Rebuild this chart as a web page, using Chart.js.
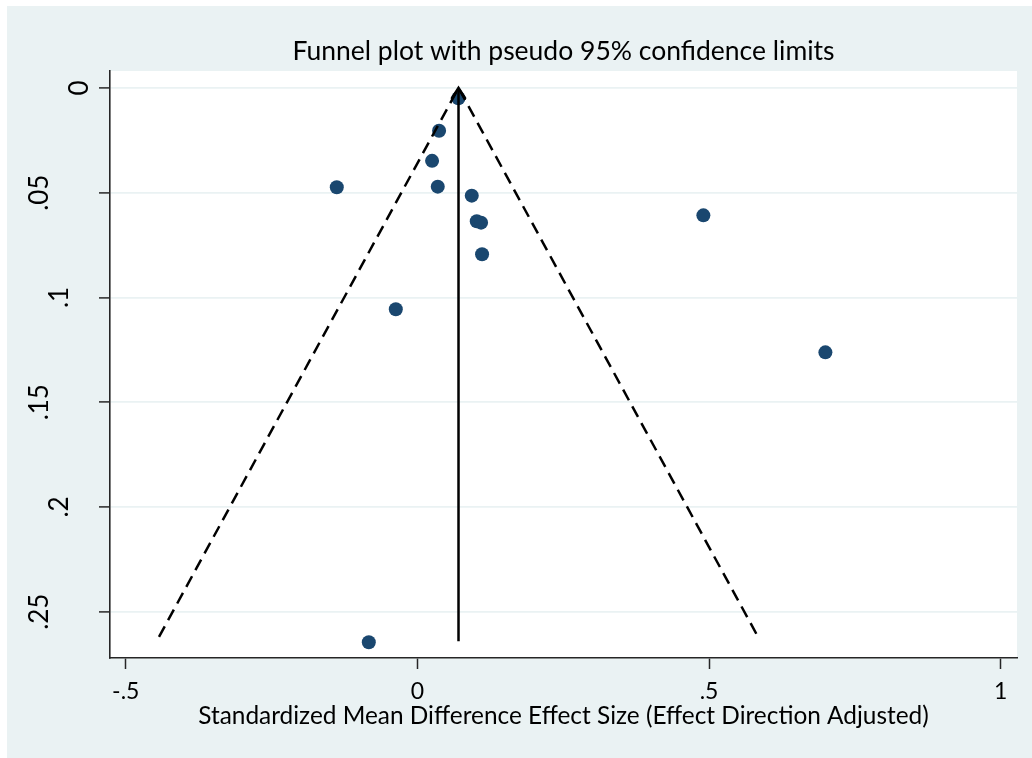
<!DOCTYPE html>
<html>
<head>
<meta charset="utf-8">
<script src="https://cdn.jsdelivr.net/npm/chart.js@4.4.0/dist/chart.umd.min.js"></script>
<style>
  html, body { margin: 0; padding: 0; background: #fff; }
  #frame { position: absolute; left: 7px; top: 6px; width: 1025px; height: 752px; background: #eaf2f3; }
  #chart { position: absolute; left: 0; top: 0; }
</style>
</head>
<body>
<div id="frame"></div>
<canvas id="chart" width="1032" height="758"></canvas>
<script>
    // study estimates (x) and their standard errors (y)
    const studyEffect = [0.0703, 0.0372, 0.0252, -0.1382, 0.0349, 0.0932, 0.1018, 0.1092, 0.1109, 0.4903, -0.037, 0.6995, -0.0833];
    const studySE = [0.0049, 0.0204, 0.0348, 0.0474, 0.0471, 0.0514, 0.0636, 0.0643, 0.0794, 0.0608, 0.1056, 0.1262, 0.2646];

    // pseudo 95% limits and pooled estimate line
    const funnelX = [-0.443, 0.0705, 0.584];
    const funnelY = [0.262, 0, 0.262];
    const pooledX = [0.0705, 0.0705];
    const pooledY = [0, 0.2641];

    const xTicks = [-0.5, 0, 0.5, 1];
    const xTickLabels = ["-.5", "0", ".5", "1"];
    const yTicks = [0, 0.05, 0.1, 0.15, 0.2, 0.25];
    const yTickLabels = ["0", ".05", ".1", ".15", ".2", ".25"];

    const FONT = "Lato, 'Open Sans', sans-serif";
    const dotColor = "#1a476f";
    const axisColor = "#262626";
    const gridColor = "#eaf2f3";

    const toPoints = (xs, ys) => xs.map((x, i) => ({ x: x, y: ys[i] }));

    const plotBg = {
      id: "plotBg",
      beforeDraw(chart) {
        const { ctx, chartArea: a } = chart;
        ctx.save();
        ctx.fillStyle = "#fff";
        ctx.fillRect(a.left, a.top, a.right - a.left, a.bottom - a.top);
        ctx.restore();
      }
    };

    // open arrow head at the top of the pooled-estimate line
    const arrowHead = {
      id: "arrowHead",
      afterDatasetsDraw(chart) {
        const tip = chart.getDatasetMeta(1).data[0];
        const ctx = chart.ctx;
        ctx.save();
        ctx.strokeStyle = "#000";
        ctx.lineWidth = 2.6;
        ctx.beginPath();
        ctx.moveTo(tip.x - 7, tip.y + 11);
        ctx.lineTo(tip.x, tip.y);
        ctx.lineTo(tip.x + 7, tip.y + 11);
        ctx.stroke();
        ctx.restore();
      }
    };

    // rotated y labels, shifted like the original export
    const yLabels = {
      id: "yLabels",
      afterDraw(chart) {
        const { ctx, scales: { y } } = chart;
        ctx.save();
        ctx.font = "26px " + FONT;
        ctx.fillStyle = "#000";
        ctx.textAlign = "center";
        ctx.textBaseline = "alphabetic";
        y.ticks.forEach((t, i) => {
          const label = yTickLabels[i];
          const py = y.getPixelForValue(t.value);
          const px = 107.5 - 19.8 * label.length;
          ctx.save();
          ctx.translate(px, py);
          ctx.rotate(-Math.PI / 2);
          ctx.fillText(label, 0, 0);
          ctx.restore();
        });
        ctx.restore();
      }
    };

    new Chart(document.getElementById("chart"), {
      type: "scatter",
      data: {
        datasets: [
          {
            label: "limits",
            data: toPoints(funnelX, funnelY),
            showLine: true,
            borderColor: "#000",
            borderWidth: 2.5,
            borderDash: [12, 7],
            pointRadius: 0,
            fill: false
          },
          {
            label: "pooled",
            data: toPoints(pooledX, pooledY),
            showLine: true,
            borderColor: "#000",
            borderWidth: 2.5,
            pointRadius: 0,
            fill: false
          },
          {
            label: "studies",
            data: toPoints(studyEffect, studySE),
            backgroundColor: dotColor,
            borderWidth: 0,
            pointRadius: 7,
            pointHoverRadius: 7
          }
        ]
      },
      options: {
        responsive: false,
        animation: false,
        layout: { padding: { left: 0, right: 15, top: 0, bottom: 0 } },
        plugins: {
          legend: { display: false },
          tooltip: { enabled: false },
          title: {
            display: true,
            fullSize: false,
            text: "Funnel plot with pseudo 95% confidence limits",
            color: "#000",
            font: { family: FONT, size: 26.5, weight: "normal" },
            padding: { top: 35.5, bottom: 3.7 }
          }
        },
        scales: {
          x: {
            type: "linear",
            min: -0.527,
            max: 1.028,
            afterBuildTicks: s => { s.ticks = xTicks.map(v => ({ value: v })); },
            afterFit: s => { s.height = 100; },
            ticks: {
              color: "#000",
              font: { family: FONT, size: 23 },
              padding: 9,
              maxRotation: 0,
              callback: (v) => xTickLabels[xTicks.indexOf(v)]
            },
            grid: { drawOnChartArea: false, drawTicks: true, tickLength: 11, tickColor: axisColor, tickWidth: 1.5 },
            border: { display: true, color: axisColor, width: 1.6 },
            title: {
              display: true,
              text: "Standardized Mean Difference Effect Size (Effect Direction Adjusted)",
              color: "#000",
              font: { family: FONT, size: 24.4 },
              padding: { top: 0, bottom: 27 }
            }
          },
          y: {
            type: "linear",
            reverse: true,
            min: -0.0081,
            max: 0.2721,
            afterBuildTicks: s => { s.ticks = yTicks.map(v => ({ value: v })); },
            afterFit: s => { s.width = 110; },
            ticks: { display: false },
            grid: { color: gridColor, lineWidth: 1.8, drawTicks: true, tickLength: 11, tickColor: axisColor, tickWidth: 1.5 },
            border: { display: true, color: axisColor, width: 1.6 }
          }
        }
      },
      plugins: [plotBg, arrowHead, yLabels]
    });
</script>
</body>
</html>
